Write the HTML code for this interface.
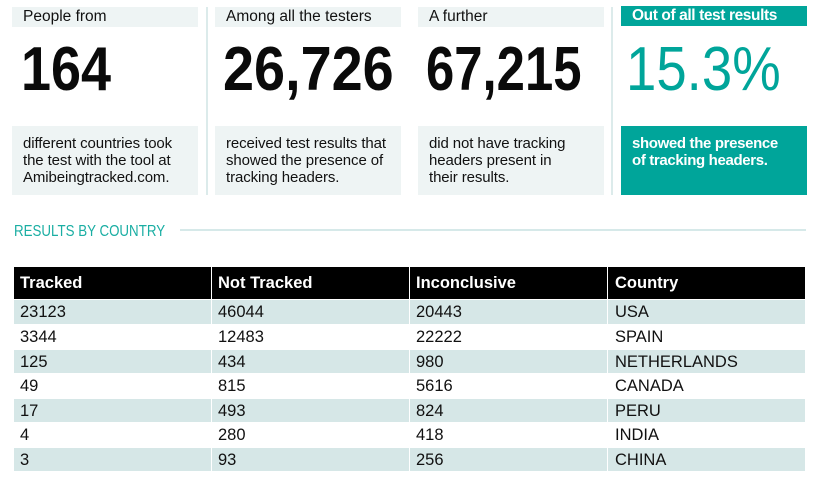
<!DOCTYPE html>
<html><head><meta charset="utf-8"><style>
*{margin:0;padding:0;box-sizing:border-box}
body{width:819px;height:478px;background:#fff;position:relative;overflow:hidden;font-family:"Liberation Sans",sans-serif;color:#111}
.a{position:absolute}
.lbl{position:absolute;top:7px;height:20px;background:#eef4f4;font-size:15.5px;line-height:20px;padding-left:11px;white-space:nowrap}
.box{position:absolute;top:126px;height:69px;background:#eef4f4;font-size:15px;line-height:17px;padding:9px 0 0 11px;letter-spacing:-0.1px}
.div{position:absolute;top:7px;width:2px;height:188px;background:#dcebeb}
.big{position:absolute;top:39px;font-size:62px;line-height:62px;font-weight:bold;transform-origin:0 0;white-space:nowrap;color:#0a0a0a}
.teal{background:#00a59a;color:#fff}
.cell{position:absolute;height:24px;font-size:16.5px;line-height:25px;padding-left:6px;white-space:nowrap}
.h{background:#000;color:#fff;font-weight:bold;height:32px;line-height:33px;top:267px}
.s{background:#d6e7e7}
</style></head><body>
<div class="lbl" style="left:12px;width:186px">People from</div>
<div class="lbl" style="left:215px;width:186px">Among all the testers</div>
<div class="lbl" style="left:418px;width:186px">A further</div>
<div class="lbl teal" style="left:621px;width:186px;top:6px;font-weight:bold;letter-spacing:-0.4px">Out of all test results</div>
<div class="div" style="left:206px"></div>
<div class="div" style="left:611px"></div>
<div class="big" style="left:21px;transform:scaleX(0.87)">164</div>
<div class="big" style="left:223px;transform:scaleX(0.9)">26,726</div>
<div class="big" style="left:426px;transform:scaleX(0.82)">67,215</div>
<div class="big" style="left:626px;transform:scaleX(0.88);font-weight:normal;color:#00a59a">15.3%</div>
<div class="box" style="left:12px;width:186px">different countries took<br>the test with the tool at<br>Amibeingtracked.com.</div>
<div class="box" style="left:215px;width:186px">received test results that<br>showed the presence of<br>tracking headers.</div>
<div class="box" style="left:418px;width:186px">did not have tracking<br>headers present in<br>their results.</div>
<div class="box teal" style="left:621px;width:186px;font-weight:bold;letter-spacing:-0.35px">showed the presence<br>of tracking headers.</div>
<div class="a" style="left:14px;top:223px;font-size:15.5px;line-height:18px;color:#1aaea3;transform:scaleX(0.86);transform-origin:0 0;white-space:nowrap">RESULTS BY COUNTRY</div>
<div class="a" style="left:180px;top:229px;width:626px;height:2px;background:#d6e9e9"></div>

<div class="cell h" style="left:14px;width:197px">Tracked</div>
<div class="cell h" style="left:212px;width:197px">Not Tracked</div>
<div class="cell h" style="left:410px;width:197px">Inconclusive</div>
<div class="cell h" style="left:608px;width:197px;padding-left:7px">Country</div>

<div class="cell s" style="left:14px;width:197px;top:300px">23123</div>
<div class="cell s" style="left:212px;width:197px;top:300px">46044</div>
<div class="cell s" style="left:410px;width:197px;top:300px">20443</div>
<div class="cell s" style="left:608px;width:197px;top:300px;padding-left:7px">USA</div>

<div class="cell" style="left:14px;width:197px;top:325px">3344</div>
<div class="cell" style="left:212px;width:197px;top:325px">12483</div>
<div class="cell" style="left:410px;width:197px;top:325px">22222</div>
<div class="cell" style="left:608px;width:197px;top:325px;padding-left:7px">SPAIN</div>

<div class="cell s" style="left:14px;width:197px;top:350px;height:23px">125</div>
<div class="cell s" style="left:212px;width:197px;top:350px;height:23px">434</div>
<div class="cell s" style="left:410px;width:197px;top:350px;height:23px">980</div>
<div class="cell s" style="left:608px;width:197px;top:350px;height:23px;padding-left:7px">NETHERLANDS</div>

<div class="cell" style="left:14px;width:197px;top:374px">49</div>
<div class="cell" style="left:212px;width:197px;top:374px">815</div>
<div class="cell" style="left:410px;width:197px;top:374px">5616</div>
<div class="cell" style="left:608px;width:197px;top:374px;padding-left:7px">CANADA</div>

<div class="cell s" style="left:14px;width:197px;top:399px;height:23px">17</div>
<div class="cell s" style="left:212px;width:197px;top:399px;height:23px">493</div>
<div class="cell s" style="left:410px;width:197px;top:399px;height:23px">824</div>
<div class="cell s" style="left:608px;width:197px;top:399px;height:23px;padding-left:7px">PERU</div>

<div class="cell" style="left:14px;width:197px;top:423px">4</div>
<div class="cell" style="left:212px;width:197px;top:423px">280</div>
<div class="cell" style="left:410px;width:197px;top:423px">418</div>
<div class="cell" style="left:608px;width:197px;top:423px;padding-left:7px">INDIA</div>

<div class="cell s" style="left:14px;width:197px;top:448px;height:23px">3</div>
<div class="cell s" style="left:212px;width:197px;top:448px;height:23px">93</div>
<div class="cell s" style="left:410px;width:197px;top:448px;height:23px">256</div>
<div class="cell s" style="left:608px;width:197px;top:448px;height:23px;padding-left:7px">CHINA</div>
</body></html>
